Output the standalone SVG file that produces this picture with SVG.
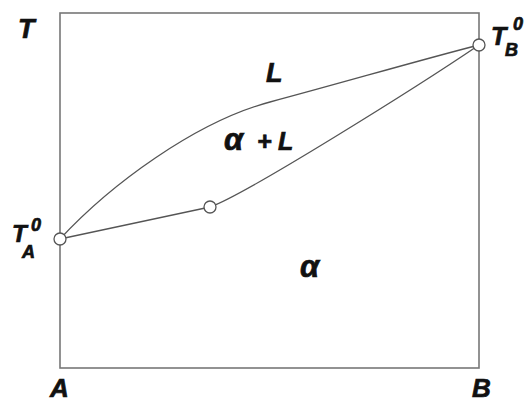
<svg xmlns="http://www.w3.org/2000/svg" width="527" height="403" viewBox="0 0 527 403">
<style>
.lbl{font-family:"Liberation Sans",Arial,sans-serif;font-weight:bold;font-style:italic;fill:#111;stroke:#111;stroke-width:0.7}
.crv{fill:none;stroke:#555;stroke-width:1.3}
.pt{fill:#fff;stroke:#555;stroke-width:1.3}
</style>
<rect width="527" height="403" fill="#fff"/>
<g id="frame">
<rect x="60" y="13" width="419" height="355" fill="none" stroke="#777" stroke-width="1.6"/>
</g>
<g id="connectors">
<path class="crv" d="M60,239 C110,185 195,122 270,102 S420,60 479,45"/>
<path class="crv" d="M60,239 L210,207"/>
<path class="crv" d="M210,207 C245,195 420,85 479,45"/>
</g>
<g id="TA"><circle class="pt" cx="60" cy="239" r="6"/></g>
<g id="TB"><circle class="pt" cx="479" cy="45" r="6"/></g>
<g id="mid"><circle class="pt" cx="210" cy="207" r="6"/></g>
<g id="labels">
<text class="lbl" x="18" y="38" font-size="27">T</text>
<text class="lbl" x="266" y="82" font-size="27">L</text>
<text class="lbl" x="224" y="150" font-size="31">α</text>
<text class="lbl" x="257" y="150" font-size="25">+</text>
<text class="lbl" x="278" y="150" font-size="25">L</text>
<text class="lbl" x="300" y="277" font-size="31">α</text>
<text class="lbl" x="50" y="397" font-size="26">A</text>
<text class="lbl" x="472" y="397" font-size="26">B</text>
<text class="lbl" x="12" y="242" font-size="24">T</text>
<text class="lbl" x="31" y="231" font-size="18">0</text>
<text class="lbl" x="22" y="258" font-size="18">A</text>
<text class="lbl" x="491" y="45" font-size="25">T</text>
<text class="lbl" x="513" y="30" font-size="18">0</text>
<text class="lbl" x="505" y="56" font-size="18">B</text>
</g>
</svg>
